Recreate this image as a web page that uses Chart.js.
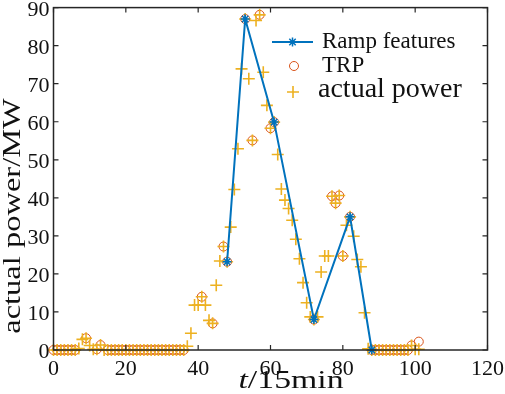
<!DOCTYPE html>
<html lang="en">
<head>
<meta charset="utf-8">
<title>Ramp features</title>
<script src="https://cdn.jsdelivr.net/npm/chart.js"></script>
<style>
	html, body {margin:0; padding:0; background:#fff;}
	#grafico {display:block;}
</style>
</head>
<body>
<canvas id="grafico" width="505" height="394"></canvas>

<script>
	// actual power, one value per 15 min step, t = 0..101
	const actualPower = [
		0, 0, 0, 0, 0, 0, 0, 0.4, 2.8, 3.1,
		1.2, 0.2, 0.2, 1.3, 0, 0, 0, 0, 0, 0,
		0, 0, 0, 0, 0, 0, 0, 0, 0, 0,
		0, 0, 0, 0, 0, 0, 0, 1.0, 4.4, 11.8,
		11.8, 14.0, 11.8, 7.8, 7.0, 17.0, 23.4, 27.2, 23.2, 32.3,
		42.2, 52.9, 73.9, 87.0, 71.3, 55.1, 86.6, 88.1, 73.0, 64.3,
		58.3, 59.9, 51.4, 42.3, 39.4, 37.2, 34.1, 29.1, 24.0, 17.7,
		12.4, 8.7, 8.0, 8.7, 20.5, 24.7, 24.7, 40.4, 38.6, 40.6,
		24.7, 32.8, 35.0, 29.9, 23.8, 21.9, 9.8, 0.3, 0, 0,
		0, 0, 0, 0, 0, 0, 0, 0, 0, 1.2,
		0.2, 0.2
	];

	// TRP points
	const trpT = [0, 1, 2, 3, 4, 5, 6, 9, 12, 13,
		15, 16, 17, 18, 19, 20, 21, 22, 23, 24, 25, 26, 27, 28, 29, 30, 31, 32, 33, 34, 35, 36,
		41, 44, 47, 48, 53, 55, 57, 60, 61, 72, 77, 78, 79, 80, 82,
		88, 89, 90, 91, 92, 93, 94, 95, 96, 97, 98, 99, 101];
	const trpP = [0, 0, 0, 0, 0, 0, 0, 3.1, 0.2, 1.3,
		0, 0, 0, 0, 0, 0, 0, 0, 0, 0, 0, 0, 0, 0, 0, 0, 0, 0, 0, 0, 0, 0,
		14.0, 7.0, 27.2, 23.2, 87.0, 55.1, 88.1, 58.3, 59.9, 8.0, 40.4, 38.6, 40.6, 24.7, 35.0,
		0, 0, 0, 0, 0, 0, 0, 0, 0, 0, 0, 1.2, 2.2];

	// ramp features
	const rampT = [48, 53, 61, 72, 82, 88];
	const rampP = [23.2, 87.0, 59.9, 8.0, 35.0, 0];

	const xTicks = [0, 20, 40, 60, 80, 100, 120];
	const yTicks = [0, 10, 20, 30, 40, 50, 60, 70, 80, 90];

	const azul = '#0072BD';
	const laranja = '#D95319';
	const amarelo = '#EDB120';
	const eixo = '#262626';
	const texto = '#111';
	const fonte = '"Liberation Serif", "Times New Roman", serif';

	function pares(ts, vs) {
		let r = [];
		for (let i = 0; i < ts.length; i++) r.push({x: ts[i], y: vs[i]});
		return r;
	}

	// texto esticado na direcao da escrita
	function textoLargo(c, partes, cx, cy, ang, esc) {
		c.save();
		c.translate(cx, cy);
		c.rotate(ang);
		c.scale(esc, 1);
		let total = 0;
		partes.forEach(function(p) { c.font = p.f; total += c.measureText(p.t).width; });
		let x = -total / 2;
		c.textAlign = 'left';
		c.textBaseline = 'middle';
		partes.forEach(function(p) {
			c.font = p.f;
			c.fillText(p.t, x, 0);
			x += c.measureText(p.t).width;
		});
		c.restore();
	}

	// box, inward ticks, tick labels, axis titles and legend
	const moldura = {
		id: 'moldura',
		afterDraw(chart) {
			const c = chart.ctx;
			const a = chart.chartArea;
			const sx = chart.scales.x, sy = chart.scales.y;
			c.save();
			c.strokeStyle = eixo;
			c.lineWidth = 1.5;
			c.strokeRect(a.left, a.top, a.right - a.left, a.bottom - a.top);
			c.lineWidth = 1.2;
			c.beginPath();
			xTicks.forEach(function(v) {
				const px = sx.getPixelForValue(v);
				c.moveTo(px, a.bottom); c.lineTo(px, a.bottom - 5);
				c.moveTo(px, a.top); c.lineTo(px, a.top + 5);
			});
			yTicks.forEach(function(v) {
				const py = sy.getPixelForValue(v);
				c.moveTo(a.left, py); c.lineTo(a.left + 5, py);
				c.moveTo(a.right, py); c.lineTo(a.right - 5, py);
			});
			c.stroke();

			// tick labels
			c.fillStyle = texto;
			c.font = '22px ' + fonte;
			c.textBaseline = 'alphabetic';
			c.textAlign = 'center';
			xTicks.forEach(function(v) {
				c.fillText(String(v), sx.getPixelForValue(v), 375);
			});
			c.textAlign = 'right';
			yTicks.forEach(function(v) {
				c.fillText(String(v), 49.5, sy.getPixelForValue(v) + 8);
			});

			// axis titles
			textoLargo(c, [{t: 't', f: 'italic 25px ' + fonte}, {t: '/15min', f: '25px ' + fonte}], 291, 381, 0, 1.35);
			textoLargo(c, [{t: 'actual power/MW', f: '25px ' + fonte}], 13, 216, -Math.PI / 2, 1.3);

			// legend
			c.strokeStyle = azul;
			c.lineWidth = 2;
			c.beginPath(); c.moveTo(272, 42); c.lineTo(313, 42); c.stroke();
			c.lineWidth = 1.5;
			c.beginPath();
			c.moveTo(292.5 - 4.5, 42); c.lineTo(292.5 + 4.5, 42);
			c.moveTo(292.5, 37.5); c.lineTo(292.5, 46.5);
			c.moveTo(289.3, 38.8); c.lineTo(295.7, 45.2);
			c.moveTo(289.3, 45.2); c.lineTo(295.7, 38.8);
			c.stroke();
			c.strokeStyle = laranja;
			c.lineWidth = 1;
			c.beginPath(); c.arc(294, 66, 4.5, 0, Math.PI * 2); c.stroke();
			c.strokeStyle = amarelo;
			c.lineWidth = 1.6;
			c.beginPath();
			c.moveTo(287, 92); c.lineTo(299, 92);
			c.moveTo(293, 86); c.lineTo(293, 98);
			c.stroke();
			c.fillStyle = texto;
			c.textAlign = 'left';
			c.textBaseline = 'middle';
			c.font = '23px ' + fonte;
			c.fillText('Ramp features', 322, 42);
			c.fillText('TRP', 322, 66);
			c.font = '28px ' + fonte;
			c.fillText('actual power', 318, 90);
			c.restore();
		}
	};

	const chartdata = {
		datasets: [
			{
				label: 'Ramp features',
				data: pares(rampT, rampP),
				showLine: true,
				borderColor: azul,
				borderWidth: 2,
				pointStyle: 'star',
				pointRadius: 4.5,
				pointBorderColor: azul,
				pointBorderWidth: 1.5,
				clip: false
			},
			{
				label: 'actual power',
				data: actualPower.map(function(v, i) { return {x: i, y: v}; }),
				showLine: false,
				pointStyle: 'cross',
				pointRadius: 6,
				pointBorderColor: amarelo,
				pointBorderWidth: 1.6,
				clip: false
			},
			{
				label: 'TRP',
				data: pares(trpT, trpP),
				showLine: false,
				pointStyle: 'circle',
				pointRadius: 4.5,
				pointBorderColor: laranja,
				pointBackgroundColor: 'rgba(0,0,0,0)',
				pointBorderWidth: 1,
				clip: false
			}
		]
	};

	new Chart(document.getElementById('grafico'), {
		type: 'scatter',
		data: chartdata,
		options: {
			responsive: false,
			animation: false,
			layout: {padding: {top: 7, right: 17.5, left: 0, bottom: 0}},
			plugins: {
				legend: {display: false},
				tooltip: {enabled: false}
			},
			scales: {
				x: {
					type: 'linear', min: 0, max: 120,
					grid: {display: false, drawTicks: false},
					border: {display: false},
					ticks: {display: false, stepSize: 20},
					afterFit: function(s) { s.height = 44; }
				},
				y: {
					type: 'linear', min: 0, max: 90,
					grid: {display: false, drawTicks: false},
					border: {display: false},
					ticks: {display: false, stepSize: 10},
					afterFit: function(s) { s.width = 53.5; }
				}
			}
		},
		plugins: [moldura]
	});
</script>
</body>
</html>
